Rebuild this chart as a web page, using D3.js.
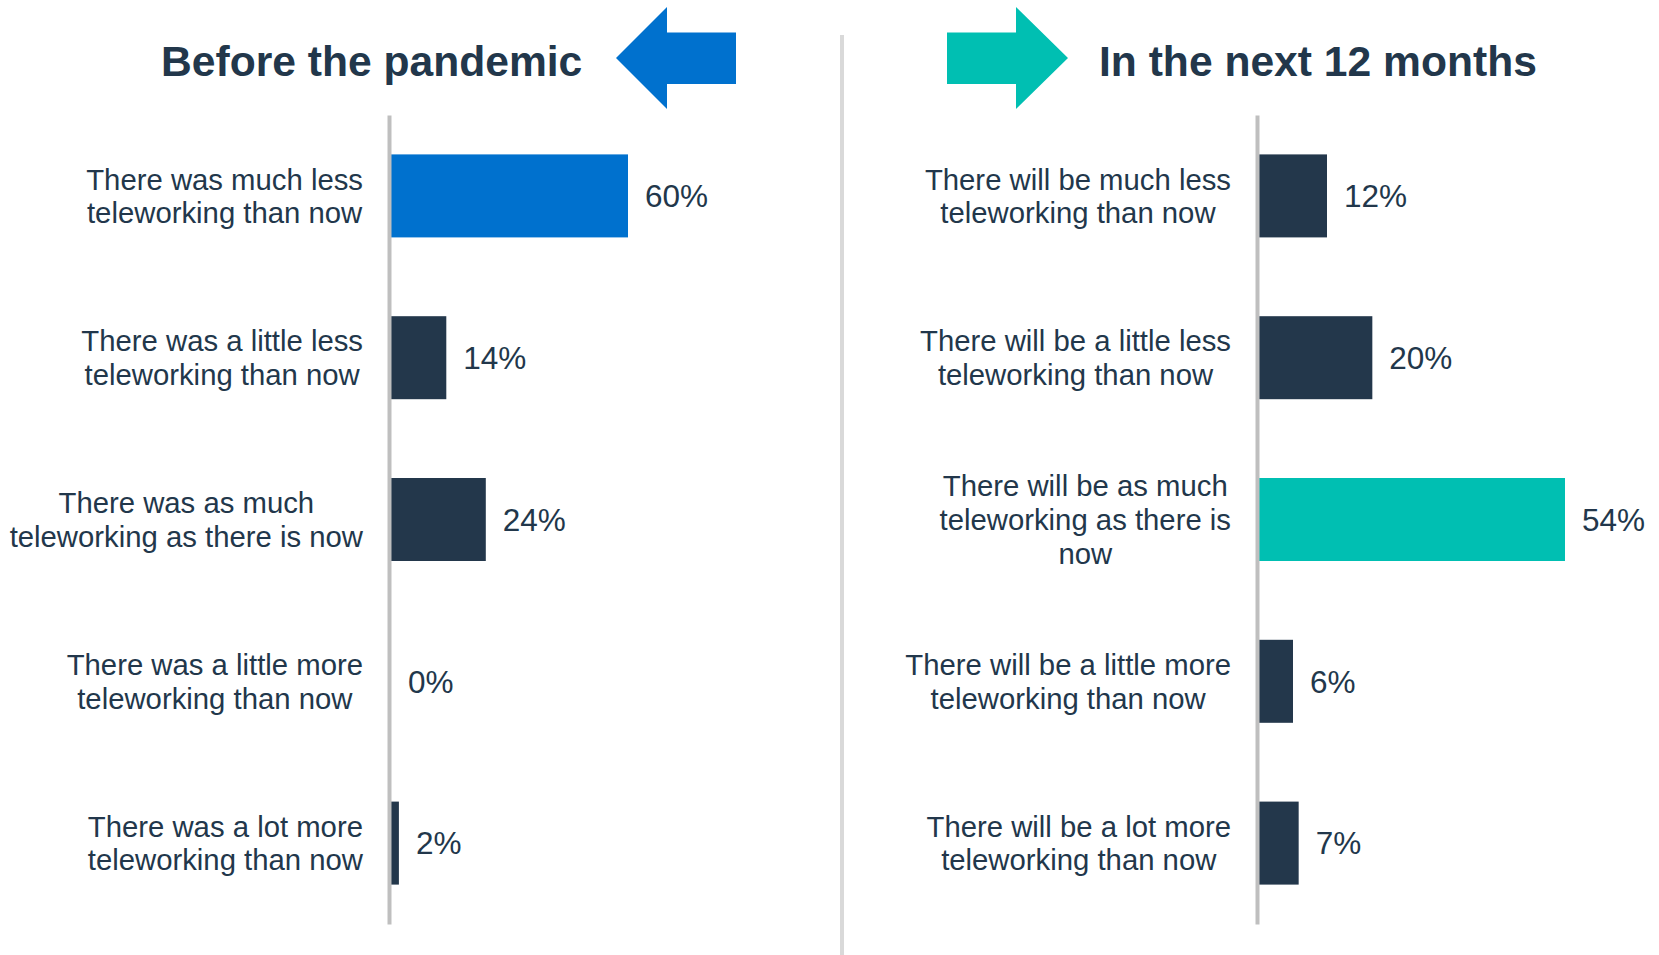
<!DOCTYPE html>
<html>
<head>
<meta charset="utf-8">
<script src="https://cdn.jsdelivr.net/npm/d3@7"></script>
<style>
  html, body { margin: 0; padding: 0; background: #ffffff; }
  svg { display: block; }
  text { font-family: "Liberation Sans", Arial, sans-serif; }
</style>
</head>
<body>
<svg id="chart" width="1659" height="955"></svg>
<script>
// ---- Data ----
const titles = ["Before the pandemic", "In the next 12 months"];

const beforeCategories = [
  "There was much less\nteleworking than now",
  "There was a little less\nteleworking than now",
  "There was as much\nteleworking as there is now",
  "There was a little more\nteleworking than now",
  "There was a lot more\nteleworking than now"
];
const beforeValues = [60, 14, 24, 0, 2];

const nextCategories = [
  "There will be much less\nteleworking than now",
  "There will be a little less\nteleworking than now",
  "There will be as much\nteleworking as there is\nnow",
  "There will be a little more\nteleworking than now",
  "There will be a lot more\nteleworking than now"
];
const nextValues = [12, 20, 54, 6, 7];

const beforeHighlight = 0;  // index highlighted in blue
const nextHighlight = 2;    // index highlighted in teal

// ---- Styles ----
const C_TEXT = "#22374b";
const C_BAR = "#23374b";
const C_BLUE = "#0071ce";
const C_TEAL = "#00bfb2";
const C_AXIS = "#bfbfbf";
const C_DIV = "#d9d9d9";
const CAT_FONT = 29.3;
const VAL_FONT = 31.5;
const TITLE_FONT = 42.6;

const svg = d3.select("#chart");

// Divider
svg.append("line")
  .attr("x1", 842).attr("x2", 842)
  .attr("y1", 35).attr("y2", 955)
  .attr("stroke", C_DIV).attr("stroke-width", 4);

// Arrows
svg.append("polygon")
  .attr("points", "616,58 667,7 667,32.5 736,32.5 736,84 667,84 667,109")
  .attr("fill", C_BLUE);
svg.append("polygon")
  .attr("points", "1068,58 1016,7 1016,32.5 947,32.5 947,84 1016,84 1016,109")
  .attr("fill", C_TEAL);

// Titles
svg.append("text")
  .attr("x", 161).attr("y", 76)
  .attr("font-size", TITLE_FONT).attr("font-weight", "bold")
  .attr("fill", C_TEXT)
  .text(titles[0]);
svg.append("text")
  .attr("x", 1099).attr("y", 76)
  .attr("font-size", TITLE_FONT).attr("font-weight", "bold")
  .attr("fill", C_TEXT)
  .text(titles[1]);

function panel(cats, vals, highlight, hiColor, xRange, xMax, labelRight) {
  const y = d3.scaleBand()
    .domain(d3.range(cats.length))
    .range([115, 924])
    .paddingInner(0.487)
    .paddingOuter(0.2435);

  const x = d3.scaleLinear().domain([0, xMax]).range(xRange);

  const g = svg.append("g");

  // Bars
  g.selectAll("rect.bar")
    .data(vals)
    .enter().append("rect")
    .attr("class", "bar")
    .attr("x", x(0))
    .attr("y", (d, i) => y(i))
    .attr("width", d => x(d) - x(0))
    .attr("height", y.bandwidth())
    .attr("fill", (d, i) => i === highlight ? hiColor : C_BAR);

  // Axis (vertical line only)
  const axis = g.append("g")
    .attr("transform", `translate(${x(0) - 2},0)`)
    .call(d3.axisLeft(y).tickSize(0).tickSizeOuter(0).tickFormat(""));
  axis.select(".domain").attr("stroke", C_AXIS).attr("stroke-width", 4);

  // Value labels
  g.selectAll("text.val")
    .data(vals)
    .enter().append("text")
    .attr("class", "val")
    .attr("x", d => x(d) + 17)
    .attr("y", (d, i) => y(i) + y.bandwidth() / 2 + VAL_FONT * 0.358)
    .attr("font-size", VAL_FONT)
    .attr("fill", C_TEXT)
    .text(d => d + "%");

  // Category labels (block right-aligned, lines centered within block)
  const lineH = 33.6;
  cats.forEach((c, i) => {
    const lines = c.split("\n");
    const t = g.append("text")
      .attr("font-size", CAT_FONT)
      .attr("fill", C_TEXT)
      .attr("text-anchor", "middle");
    const cy = y(i) + y.bandwidth() / 2;
    const spans = lines.map((ln, k) => t.append("tspan")
      .attr("y", cy + (k - (lines.length - 1) / 2) * lineH + CAT_FONT * 0.358)
      .text(ln));
    const maxW = d3.max(spans, s => s.node().getComputedTextLength());
    spans.forEach(s => s.attr("x", labelRight - maxW / 2));
  });
}

panel(beforeCategories, beforeValues, beforeHighlight, C_BLUE, [391, 628], 60, 363);
panel(nextCategories, nextValues, nextHighlight, C_TEAL, [1259, 1565], 54, 1231);
</script>
</body>
</html>
